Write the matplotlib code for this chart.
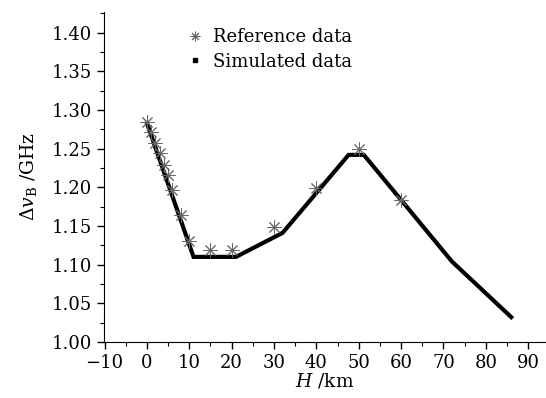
import matplotlib
matplotlib.use("Agg")
import matplotlib.pyplot as plt
from matplotlib.lines import Line2D
from matplotlib.ticker import MultipleLocator

# Reference data (stars)
ref_h = [0, 1, 2, 3, 4, 5, 6, 8, 10, 15, 20, 30, 40, 50, 60]
ref_dv = [1.285, 1.272, 1.258, 1.245, 1.229, 1.216, 1.197, 1.164, 1.131,
          1.119, 1.119, 1.149, 1.199, 1.249, 1.184]

# Simulated data (thick line)
sim_h = [0, 11, 21, 32, 47.6, 51.2, 72, 86]
sim_dv = [1.283, 1.110, 1.110, 1.141, 1.242, 1.242, 1.104, 1.032]

plt.rcParams['font.family'] = ['DejaVu Serif']
plt.rcParams['mathtext.fontset'] = 'dejavuserif'

fig = plt.figure(figsize=(5.46, 3.98), dpi=100)
ax = fig.add_axes([0.19, 0.141, 0.81, 0.829])

ax.plot(sim_h, sim_dv, color='black', linewidth=3, solid_joinstyle='miter')
ax.plot(ref_h, ref_dv, linestyle='none', marker=(8, 2, 0), markersize=10,
        markeredgecolor='#666666', markeredgewidth=0.7)

ax.set_xlim(-10.2, 94.2)
ax.set_ylim(1.0, 1.427)
ax.xaxis.set_major_locator(MultipleLocator(10))
ax.xaxis.set_minor_locator(MultipleLocator(5))
ax.yaxis.set_major_locator(MultipleLocator(0.05))
ax.yaxis.set_minor_locator(MultipleLocator(0.025))
ax.yaxis.set_major_formatter(matplotlib.ticker.FormatStrFormatter('%.2f'))

ax.spines['top'].set_visible(False)
ax.spines['right'].set_visible(False)
ax.tick_params(which='major', direction='out', length=5, width=1, labelsize=13)
ax.tick_params(which='minor', direction='out', length=3, width=0.8)
ax.set_xticks([-10, 0, 10, 20, 30, 40, 50, 60, 70, 80, 90])
ax.set_xticklabels(['\u221210', '0', '10', '20', '30', '40', '50', '60', '70', '80', '90'])

ax.set_xlabel(r'$\mathit{H}$ /km', fontsize=13.5, labelpad=0)
ax.set_ylabel(r'$\Delta\mathit{v}_{\mathrm{B}}$ /GHz', fontsize=13.5, labelpad=9)

handles = [
    Line2D([], [], linestyle='none', marker=(8, 2, 0), markersize=7,
           markeredgecolor='#666666', markeredgewidth=0.7),
    Line2D([], [], linestyle='none', marker='s', markersize=2.5, color='black'),
]
ax.legend(handles, ['Reference data', 'Simulated data'], loc='upper left',
          bbox_to_anchor=(0.15, 1.0), frameon=False, fontsize=13,
          handlelength=1.0, handletextpad=0.5, labelspacing=0.35)

fig.savefig("out.png", dpi=100)
